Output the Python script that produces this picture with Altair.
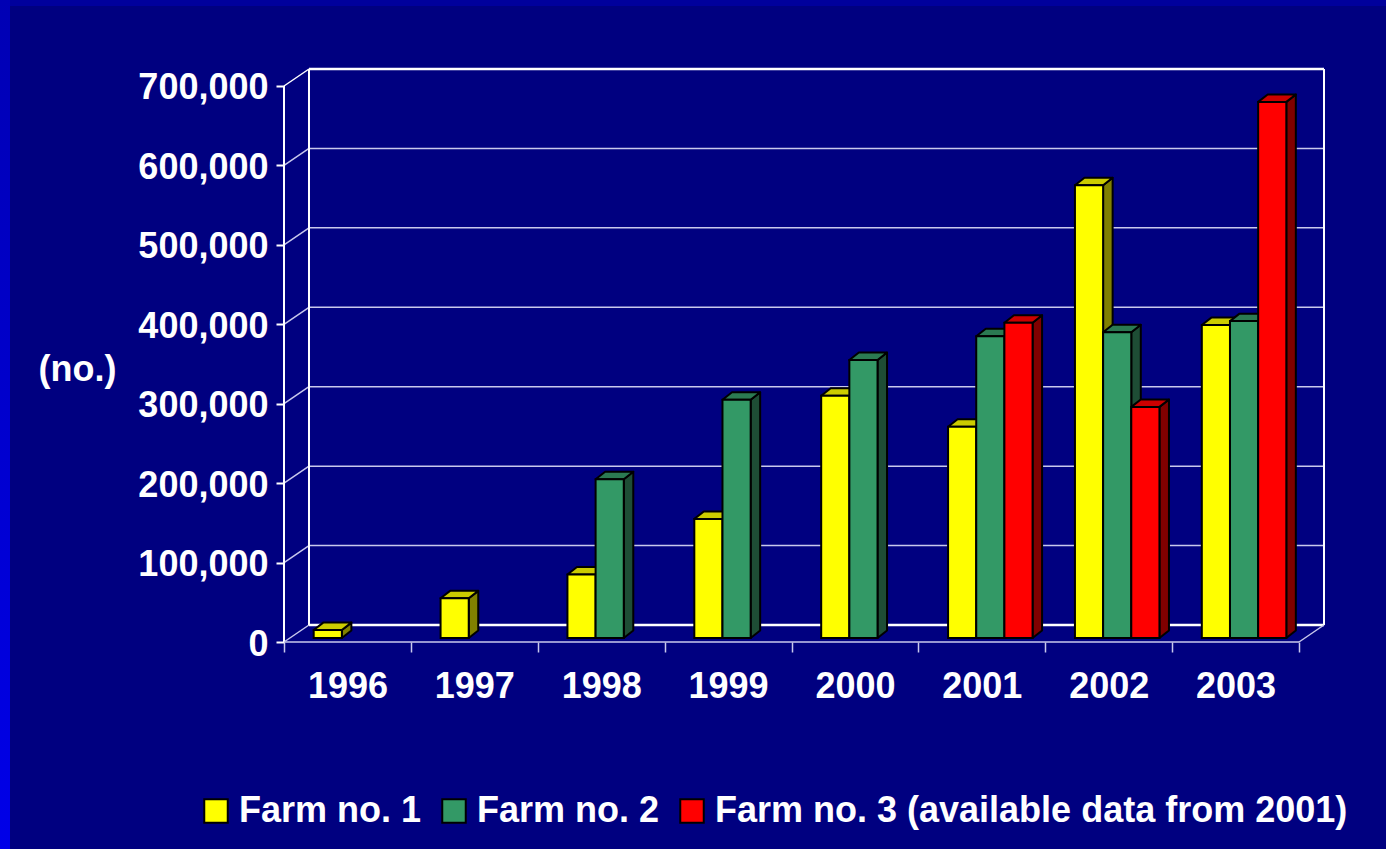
import altair as alt
import pandas as pd

# ---- data ---------------------------------------------------------------
YEARS = ["1996", "1997", "1998", "1999", "2000", "2001", "2002", "2003"]
FARMS = ["Farm no. 1", "Farm no. 2", "Farm no. 3 (available data from 2001)"]
FARM1 = [10000, 50000, 80000, 150000, 305000, 266000, 570000, 394000]
FARM2 = [None, None, 200000, 300000, 350000, 380000, 385000, 399000]
FARM3 = [None, None, None, None, None, 397000, 291000, 675000]
Y_TICKS = [0, 100000, 200000, 300000, 400000, 500000, 600000, 700000]

# face colours: front / top / side
FRONT = ["#FFFF00", "#339966", "#FF0000"]
TOP = ["#CCCC00", "#2B7A52", "#CC0000"]
SIDE = ["#808000", "#1E4D35", "#800000"]

# ---- 3D geometry (x in category units, y in value units) ---------------
WALL_DX = 0.197      # depth of the back wall, horizontally
WALL_DY = 21400      # depth of the back wall, vertically
BAR_W = 0.222        # width of one column
BAR_SHIFT = 0.067    # columns sit a little behind the front plane
BAR_LIFT = 5000
BAR_DX = 0.075       # column depth
BAR_DY = 9400
N = len(YEARS)
Y_MAX = Y_TICKS[-1]

W, H = 1040, 573
PAD = {"left": 284, "top": 69, "right": 1386 - 284 - W, "bottom": 849 - 69 - H}

FONT = "Liberation Sans"
LAVENDER = "#C8C8EC"

XS = alt.Scale(domain=[0, N + WALL_DX], nice=False, zero=False)
YS = alt.Scale(domain=[0, Y_MAX + WALL_DY], nice=False, zero=False)

years_js = "[" + ",".join("'" + y + "'" for y in YEARS) + "]"
XA = alt.Axis(
    values=[i * 0.5 for i in range(2 * N + 1)],
    labelExpr="datum.value % 1 ? " + years_js + "[floor(datum.value)] : ''",
    tickColor={"condition": {"test": "datum.value % 1 === 0", "value": LAVENDER},
               "value": "transparent"},
    tickSize=10, tickWidth=1.5, domain=False, grid=False,
    labelFont=FONT, labelFontSize=36, labelFontWeight="bold", labelColor="white",
    labelPadding=17, labelAlign="center", labelBaseline="top", title=None,
)
YA = alt.Axis(
    values=Y_TICKS, format=",.0f", tickSize=8, tickWidth=2, tickColor="white",
    domain=False, grid=False,
    labelFont=FONT, labelFontSize=36, labelFontWeight="bold", labelColor="white",
    labelPadding=8, labelBaseline="middle", labelOffset=2,
    title="(no.)", titleAngle=0, titleX=-207, titleY=300, titleAlign="center",
    titleBaseline="middle", titleFont=FONT, titleFontSize=36,
    titleFontWeight="bold", titleColor="white",
)


def X(field):
    return alt.X(field, type="quantitative", scale=XS, axis=XA, stack=False)


def Y(field):
    return alt.Y(field, type="quantitative", scale=YS, axis=YA, stack=False)


# ---- columns -----------------------------------------------------------
fronts, tops, sides = [], [], []
for s, series in enumerate([FARM1, FARM2, FARM3]):
    for i, v in enumerate(series):
        if v is None:
            continue
        x0 = i + 0.5 + BAR_SHIFT - 1.5 * BAR_W + s * BAR_W
        x1 = x0 + BAR_W
        base, top = BAR_LIFT, v + BAR_LIFT
        bid = YEARS[i] + "-" + str(s)
        fronts.append({"farm": FARMS[s], "year": YEARS[i], "value": v,
                       "x": x0, "x2": x1, "y": base, "y2": top})
        tops.append({"id": bid, "c": TOP[s], "y": top, "x": x0, "x2": x1})
        tops.append({"id": bid, "c": TOP[s], "y": top + BAR_DY,
                     "x": x0 + BAR_DX, "x2": x1 + BAR_DX})
        sides.append({"id": bid, "c": SIDE[s], "x": x1, "y": base, "y2": top})
        sides.append({"id": bid, "c": SIDE[s], "x": x1 + BAR_DX,
                      "y": base + BAR_DY, "y2": top + BAR_DY})

# ---- walls and floor ---------------------------------------------------
seg = []


def line(x, y, x2, y2, c, w):
    seg.append({"x": x, "y": y, "x2": x2, "y2": y2, "c": c, "w": w})


for v in Y_TICKS[1:-1]:
    line(WALL_DX, v + WALL_DY, N + WALL_DX, v + WALL_DY, LAVENDER, 1.5)
for v in Y_TICKS:
    line(0, v, WALL_DX, v + WALL_DY, "white" if v == Y_MAX else LAVENDER, 1.5)
line(WALL_DX, Y_MAX + WALL_DY, N + WALL_DX, Y_MAX + WALL_DY, "white", 2.5)
line(WALL_DX, WALL_DY, N + WALL_DX, WALL_DY, "white", 2.5)
line(0, 0, 0, Y_MAX, "white", 2)
line(WALL_DX, WALL_DY, WALL_DX, Y_MAX + WALL_DY, "white", 2)
line(N + WALL_DX, WALL_DY, N + WALL_DX, Y_MAX + WALL_DY, "white", 2)
line(0, 0, N, 0, LAVENDER, 1.5)
line(N, 0, N + WALL_DX, WALL_DY, LAVENDER, 1.5)

# ---- page frame --------------------------------------------------------
one = alt.Data(values=[{}])
left_strip = alt.Chart(one).mark_rect(
    color=alt.Gradient(gradient="linear", x1=0, y1=0, x2=0, y2=1,
                       stops=[alt.GradientStop(color="#0000B4", offset=0),
                              alt.GradientStop(color="#0000E8", offset=1)])
).encode(x=alt.value(-PAD["left"]), x2=alt.value(-PAD["left"] + 10),
         y=alt.value(-PAD["top"]), y2=alt.value(849 - PAD["top"]))
top_strip = alt.Chart(one).mark_rect(color="#00009C").encode(
    x=alt.value(-PAD["left"] + 10), x2=alt.value(1386 - PAD["left"]),
    y=alt.value(-PAD["top"]), y2=alt.value(-PAD["top"] + 6))

frame = alt.Chart(pd.DataFrame(seg)).mark_rule().encode(
    x=X("x"), x2="x2", y=Y("y"), y2="y2",
    stroke=alt.Stroke("c:N", scale=None),
    strokeWidth=alt.StrokeWidth("w:Q", scale=None),
)

side_faces = alt.Chart(pd.DataFrame(sides)).mark_area(
    orient="vertical", stroke="black", strokeWidth=2, strokeJoin="round"
).encode(x=X("x"), y=Y("y"), y2="y2", detail="id:N",
         fill=alt.Fill("c:N", scale=None))

top_faces = alt.Chart(pd.DataFrame(tops)).mark_area(
    orient="horizontal", stroke="black", strokeWidth=2, strokeJoin="round"
).encode(y=Y("y"), x=X("x"), x2="x2", detail="id:N",
         fill=alt.Fill("c:N", scale=None))

front_faces = alt.Chart(pd.DataFrame(fronts)).mark_rect(
    stroke="black", strokeWidth=2
).encode(
    x=X("x"), x2="x2", y=Y("y"), y2="y2",
    color=alt.Color(
        "farm:N",
        scale=alt.Scale(domain=FARMS, range=FRONT),
        legend=alt.Legend(
            orient="none", legendX=-86, legendY=724, direction="horizontal",
            title=None, padding=0, symbolType="square", symbolSize=552,
            symbolStrokeColor="black", symbolStrokeWidth=2, symbolOpacity=1,
            labelFont=FONT, labelFontSize=36, labelFontWeight="bold",
            labelColor="white", labelOffset=5, columnPadding=14,
            labelLimit=1000, labelBaseline="middle",
        ),
    ),
)

chart = alt.layer(
    left_strip, top_strip, frame, side_faces, top_faces, front_faces
).properties(
    width=W, height=H, padding=PAD, background="#000080",
    autosize=alt.AutoSizeParams(type="none"),
).configure_view(stroke=None)

chart.save("out.html", embed_options={"renderer": "svg", "actions": False})
